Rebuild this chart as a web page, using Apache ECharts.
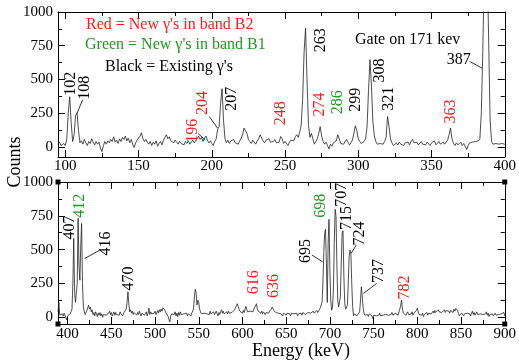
<!DOCTYPE html>
<html><head><meta charset="utf-8">
<script src="https://cdn.jsdelivr.net/npm/echarts@6/dist/echarts.min.js"></script>
<style>html,body{margin:0;padding:0;background:#fff}#c{width:519px;height:364px}</style>
</head><body><div id="c"></div>
<script>
// ---- data (1 keV bins) ----
const topStartKeV = 95;
const topCounts = [
 20,35,10,5,25,10,60,250,372,180,
 40,90,230,253,120,30,45,20,55,30,
 10,40,25,60,35,15,40,20,35,-10,
 -35,10,40,20,45,30,55,40,75,35,
 50,25,60,40,70,55,80,45,65,30,
 55,20,-5,30,50,45,80,105,60,40,
 55,35,20,40,10,35,20,45,5,25,
 40,15,50,70,90,60,75,45,55,30,
 50,35,20,40,25,30,15,40,25,45,
 20,35,50,30,45,60,80,55,70,40,
 65,80,50,30,45,25,10,40,60,130,
 150,320,431,200,60,30,50,25,45,35,
 55,30,40,20,45,60,90,140,150,100,
 55,40,25,50,35,20,45,60,89,75,
 45,30,50,40,60,35,25,40,55,30,
 20,35,77,60,25,40,30,10,35,50,
 60,45,75,90,70,110,160,350,700,880,
 500,160,70,100,60,20,40,60,100,150,
 80,40,20,35,10,-15,20,5,30,20,
 45,90,60,25,35,20,40,55,35,15,
 30,50,100,156,120,60,40,25,20,40,
 60,150,420,647,450,180,80,40,20,10,
 25,15,20,40,70,225,150,60,30,10,
 20,30,15,35,20,25,10,30,20,35,
 15,40,55,30,20,35,15,25,40,20,
 30,15,35,25,10,30,20,45,15,25,
 40,20,10,35,20,30,50,90,140,60,
 25,10,30,15,20,35,10,25,15,-20,
 10,30,20,35,25,40,30,45,60,250,
 700,1300,1600,1400,800,200,40,20,10,25,
 15,20,10,25,15,20
];
const botStartKeV = 389;
const botCounts = [
 40,110,15,20,5,25,10,30,15,-5,
 -20,10,20,5,25,15,60,250,583,180,
 110,103,250,731,380,274,520,694,250,76,
 45,20,35,50,70,89,60,75,40,55,
 20,35,10,40,25,5,30,15,35,10,
 25,0,20,10,30,15,25,5,30,45,
 20,35,10,25,40,15,35,20,10,30,
 15,40,25,35,10,30,20,40,60,110,
 188,100,40,55,30,45,20,35,25,40,
 15,35,20,45,25,10,30,20,35,15,
 25,40,10,30,67,20,40,25,35,15,
 30,45,20,35,50,30,55,40,60,45,
 70,76,55,40,25,15,5,-20,-35,10,
 25,15,35,20,40,10,30,5,35,15,
 40,20,30,10,25,35,15,30,10,25,
 20,35,10,30,40,60,150,205,180,90,
 126,110,60,40,25,35,15,30,20,40,
 25,15,35,20,45,25,35,15,40,20,
 30,45,25,10,35,20,40,55,30,45,
 25,35,15,40,25,45,30,20,40,35,
 25,45,55,70,85,100,80,60,45,55,
 40,30,50,35,60,80,55,40,50,30,
 45,35,55,40,60,50,70,100,60,45,
 35,55,30,45,25,40,30,20,35,25,
 40,30,45,55,60,76,70,50,40,35,
 25,45,30,20,40,25,35,10,30,20,
 35,15,30,20,35,25,10,30,20,40,
 25,35,15,30,10,25,35,20,30,15,
 35,25,40,20,30,15,35,25,45,30,
 20,35,45,30,40,25,50,35,45,55,
 70,60,110,250,480,620,650,400,110,550,
 724,350,120,52,70,200,550,798,750,380,
 120,76,90,150,400,620,640,300,100,60,
 52,90,250,450,496,470,250,80,10,25,
 15,30,10,20,5,40,120,225,160,70,
 30,15,25,10,20,5,25,15,30,10,
 -10,15,5,25,10,20,5,15,30,10,
 20,0,15,25,5,20,10,30,15,25,
 5,20,35,15,25,10,30,20,35,15,
 40,60,90,126,60,30,20,35,15,25,
 40,20,30,10,25,40,15,30,20,40,
 50,67,40,20,10,25,15,30,5,20,
 10,25,35,15,30,20,40,25,35,45,
 30,50,35,45,25,55,40,30,50,35,
 25,45,55,35,50,40,60,45,30,50,
 40,55,35,60,45,65,67,50,30,10,
 20,15,30,20,10,25,35,15,30,20,
 40,25,10,30,45,20,35,15,25,40,
 20,30,10,25,15,35,20,30,10,25,
 40,15,30,5,20,30,15,25,10,20,
 30,15,25,5,20,30,10,25,15,20,
 35,10
];
const topTickLabels = [100,150,200,250,300,350,400];
const topMinorTicks = [125,175,225,275,325,375];
const botTickLabels = [400,450,500,550,600,650,700,750,800,850,900];
const botMinorTicks = [425,475,525,575,625,675,725,775,825,875];
const yTickLabels = [0,250,500,750,1000];
const yMinorTicks = [125,375,625,875];

// peak labels: [text, colour key, label centre keV, label centre counts]
const topPeakText = ['102','108','196','204','207','248','263','274','286','299','308','321','363','387'];
const topPeakColor = ['k','k','r','r','k','r','k','r','g','k','k','k','r','k'];
const topPeakE = [103.7,113,187,193.7,213.5,247,274.1,273.5,286,298.5,314.9,321.1,363,368.6];
const topPeakC = [468,439,119,325,357,250,790,315,331,349,566,356,263,647];
const topPeakRot = [1,1,1,1,1,1,1,1,1,1,1,1,1,0];
// leader lines [index, e1, c1, e2, c2]
const topLeaders = [[1,111.8,349,108.1,251],[2,190.8,97,195.5,52],[3,198.3,225,203.9,139],[13,376,634,384.4,585]];

const botPeakText = ['407','412','416','470','616','636','695','698','707','715','724','737','782'];
const botPeakColor = ['k','g','k','k','r','r','k','g','k','k','k','k','r'];
const botPeakE = [402.7,413.7,443.4,470,613.2,636,672,689.1,714,718.8,734.6,756.4,785.3];
const botPeakC = [663,824,546,286,259,231,490,824,905,733,620,342,219];
const botLeaders = [[2,436.8,496,419.7,435],[6,679.6,459,691.7,410],[10,730,533,724.3,472],[11,753.5,250,738.4,176]];

const legendLines = [["Red = New γ's in band B2",'r'],["Green = New γ's in band B1",'g'],["Black = Existing γ's",'k']];
const gateText = 'Gate on 171 kev';

const COL = {k:'#000', r:'#ff1a1a', g:'#1f9a1f'};
const FONT = "'Liberation Serif','DejaVu Serif',serif";

function pairs(start, arr){ return arr.map((v,i)=>[start+i, v]); }
const plain = v => String(v);

function xAxesFor(g, min, max, major, minor, margin){
  const base = {type:'value', gridIndex:g, min:min, max:max, splitLine:{show:false}};
  return [
    Object.assign({}, base, {position:'bottom',
      axisLine:{show:true,onZero:false,lineStyle:{color:'#000',width:1}},
      axisTick:{show:true,inside:true,length:7,customValues:major,lineStyle:{color:'#000'}},
      axisLabel:{show:true,customValues:major,margin:margin,color:'#000',fontFamily:FONT,fontSize:15,formatter:plain}}),
    Object.assign({}, base, {position:'bottom',
      axisLine:{show:false,onZero:false},
      axisTick:{show:true,inside:true,length:4,customValues:minor,lineStyle:{color:'#000'}},
      axisLabel:{show:false}}),
    Object.assign({}, base, {position:'top',
      axisLine:{show:true,onZero:false,lineStyle:{color:'#000',width:1}},
      axisTick:{show:true,inside:true,length:7,customValues:major,lineStyle:{color:'#000'}},
      axisLabel:{show:false}}),
    Object.assign({}, base, {position:'top',
      axisLine:{show:false,onZero:false},
      axisTick:{show:true,inside:true,length:4,customValues:minor,lineStyle:{color:'#000'}},
      axisLabel:{show:false}})
  ];
}
function yAxesFor(g, min, max){
  const base = {type:'value', gridIndex:g, min:min, max:max, splitLine:{show:false}};
  return [
    Object.assign({}, base, {position:'left',
      axisLine:{show:true,onZero:false,lineStyle:{color:'#000',width:1}},
      axisTick:{show:true,inside:true,length:7,customValues:yTickLabels,lineStyle:{color:'#000'}},
      axisLabel:{show:true,customValues:yTickLabels,margin:5,color:'#000',fontFamily:FONT,fontSize:15,formatter:plain}}),
    Object.assign({}, base, {position:'left',
      axisLine:{show:false,onZero:false},
      axisTick:{show:true,inside:true,length:4,customValues:yMinorTicks,lineStyle:{color:'#000'}},
      axisLabel:{show:false}}),
    Object.assign({}, base, {position:'right',
      axisLine:{show:true,onZero:false,lineStyle:{color:'#000',width:1}},
      axisTick:{show:true,inside:true,length:7,customValues:yTickLabels,lineStyle:{color:'#000'}},
      axisLabel:{show:false}}),
    Object.assign({}, base, {position:'right',
      axisLine:{show:false,onZero:false},
      axisTick:{show:true,inside:true,length:4,customValues:yMinorTicks,lineStyle:{color:'#000'}},
      axisLabel:{show:false}})
  ];
}

const TOP_MIN = 95, TOP_MAX = 400, BOT_MIN = 389, BOT_MAX = 900;
const Y_TOP_MIN = -75, Y_BOT_MIN = -50, Y_MAX = 1000;

const chart = echarts.init(document.getElementById('c'), null, {renderer:'canvas'});
const option = {
  animation:false,
  backgroundColor:'#fff',
  grid:[
    {left:58, right:12, top:12, height:145},
    {left:58, right:12, top:182, height:142}
  ],
  xAxis: xAxesFor(0, TOP_MIN, TOP_MAX, topTickLabels, topMinorTicks, 2)
          .concat(xAxesFor(1, BOT_MIN, BOT_MAX, botTickLabels, botMinorTicks, 3)),
  yAxis: yAxesFor(0, Y_TOP_MIN, Y_MAX).concat(yAxesFor(1, Y_BOT_MIN, Y_MAX)),
  series:[
    {type:'line', xAxisIndex:0, yAxisIndex:0, data:pairs(topStartKeV, topCounts),
     showSymbol:false, clip:true, lineStyle:{color:'#222', width:0.8}, silent:true},
    {type:'line', xAxisIndex:4, yAxisIndex:4, data:pairs(botStartKeV, botCounts),
     showSymbol:false, clip:true, lineStyle:{color:'#222', width:0.8}, silent:true}
  ]
};
chart.setOption(option);

function px(g, e, c){ return chart.convertToPixel({gridIndex:g}, [e, c]); }
const gfx = [];
function addLabel(g, t, col, e, c, rot){
  const p = px(g, e, c);
  gfx.push({type:'text', x:p[0], y:p[1], rotation: rot ? Math.PI/2 : 0, z:10,
    style:{text:t, fill:COL[col], font:'16px '+FONT, align:'center', verticalAlign:'middle',
           textAlign:'center', textVerticalAlign:'middle'}});
}
function addLeader(g, l){
  const a = px(g, l[1], l[2]), b = px(g, l[3], l[4]);
  gfx.push({type:'line', z:10, shape:{x1:a[0],y1:a[1],x2:b[0],y2:b[1]}, style:{stroke:'#000', lineWidth:0.8}});
}
topPeakText.forEach((t,i)=>addLabel(0, t, topPeakColor[i], topPeakE[i], topPeakC[i], topPeakRot[i]));
botPeakText.forEach((t,i)=>addLabel(1, t, botPeakColor[i], botPeakE[i], botPeakC[i], 1));
topLeaders.forEach(l=>addLeader(0,l));
botLeaders.forEach(l=>addLeader(1,l));

// legend-like texts in the top panel
const legTop = [25, 45, 66.5];
const legLeft = [86, 85, 105];
legendLines.forEach((l,i)=>{
  gfx.push({type:'text', x:legLeft[i], y:legTop[i], z:10,
    style:{text:l[0], fill:COL[l[1]], font:'16px '+FONT, align:'left', verticalAlign:'middle',
           textAlign:'left', textVerticalAlign:'middle'}});
});
gfx.push({type:'text', x:355, y:40, z:10,
  style:{text:gateText, fill:'#000', font:'16px '+FONT, align:'left', verticalAlign:'middle',
         textAlign:'left', textVerticalAlign:'middle'}});

// axis titles
gfx.push({type:'text', x:15, y:162, rotation:Math.PI/2, z:10,
  style:{text:'Counts', fill:'#000', font:'18px '+FONT, align:'center', verticalAlign:'middle',
         textAlign:'center', textVerticalAlign:'middle'}});
gfx.push({type:'text', x:301, y:351, z:10,
  style:{text:'Energy (keV)', fill:'#000', font:'18px '+FONT, align:'center', verticalAlign:'middle',
         textAlign:'center', textVerticalAlign:'middle'}});

// corner handles on the lower panel
[[BOT_MIN,Y_MAX],[BOT_MAX,Y_MAX],[BOT_MIN,Y_BOT_MIN],[BOT_MAX,Y_BOT_MIN]].forEach(cn=>{
  const p = px(1, cn[0], cn[1]);
  gfx.push({type:'rect', z:11, shape:{x:p[0]-2.5, y:p[1]-2.5, width:5, height:5}, style:{fill:'#000'}});
});

chart.setOption({graphic: gfx});
</script>
</body></html>
